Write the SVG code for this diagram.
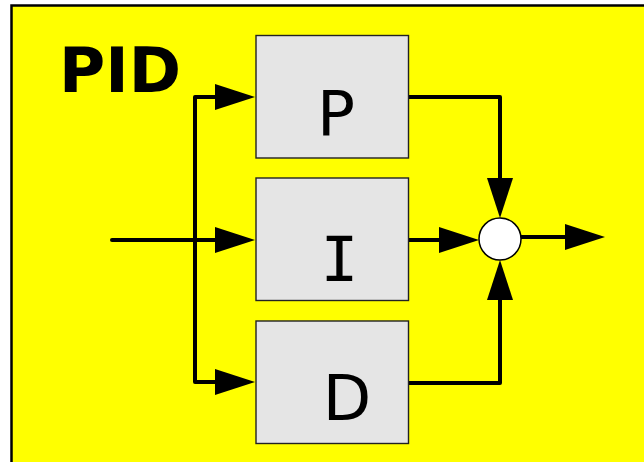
<svg xmlns="http://www.w3.org/2000/svg" width="644" height="462" viewBox="0 0 644 462">
<style>
.blk{fill:#e5e5e5;stroke:#222;stroke-width:1.4}
.lbl{font-family:"DejaVu Sans",Verdana,sans-serif;font-size:63px;fill:#000}
.mono{font-family:"DejaVu Sans Mono",monospace}
.wire{fill:none;stroke:#000;stroke-width:4;stroke-linecap:round;stroke-linejoin:round}
.arr{marker-end:url(#ah)}
</style>
<defs>
<marker id="ah" viewBox="0 0 40 26" refX="10" refY="13" markerWidth="40" markerHeight="26" markerUnits="userSpaceOnUse" orient="auto">
<path d="M0,0 L40,13 L0,26 Z" fill="#000"/>
</marker>
</defs>
<rect x="0" y="0" width="644" height="462" fill="#fff"/>
<rect id="frame" x="11.5" y="5.5" width="660" height="480" fill="#ffff00" stroke="#000" stroke-width="2.5"/>
<text id="title" x="59" y="92" font-family="'DejaVu Sans',Verdana,sans-serif" font-weight="bold" font-size="63" textLength="122" lengthAdjust="spacingAndGlyphs">PID</text>
<g id="connectors">
<path class="wire arr" d="M112,240 H225"/>
<path class="wire arr" d="M195,240 V97 H225"/>
<path class="wire arr" d="M195,240 V382 H225"/>
<path class="wire arr" d="M408,97 H500 V188"/>
<path class="wire arr" d="M408,240 H449"/>
<path class="wire arr" d="M408,383 H500 V290"/>
<path class="wire arr" d="M521,237 H575"/>
</g>
<g id="P">
<rect class="blk" x="256" y="35.5" width="152.5" height="122.5"/>
<text class="lbl" x="336" y="135" text-anchor="middle">P</text>
</g>
<g id="I">
<rect class="blk" x="256" y="178" width="152.5" height="122.5"/>
<text class="lbl mono" x="339.5" y="281" text-anchor="middle">I</text>
</g>
<g id="D">
<rect class="blk" x="256" y="321" width="152.5" height="122.5"/>
<text class="lbl" x="347" y="420" text-anchor="middle">D</text>
</g>
<g id="sum">
<circle cx="500" cy="239" r="21" fill="#fff" stroke="#000" stroke-width="1.5"/>
</g>
</svg>
